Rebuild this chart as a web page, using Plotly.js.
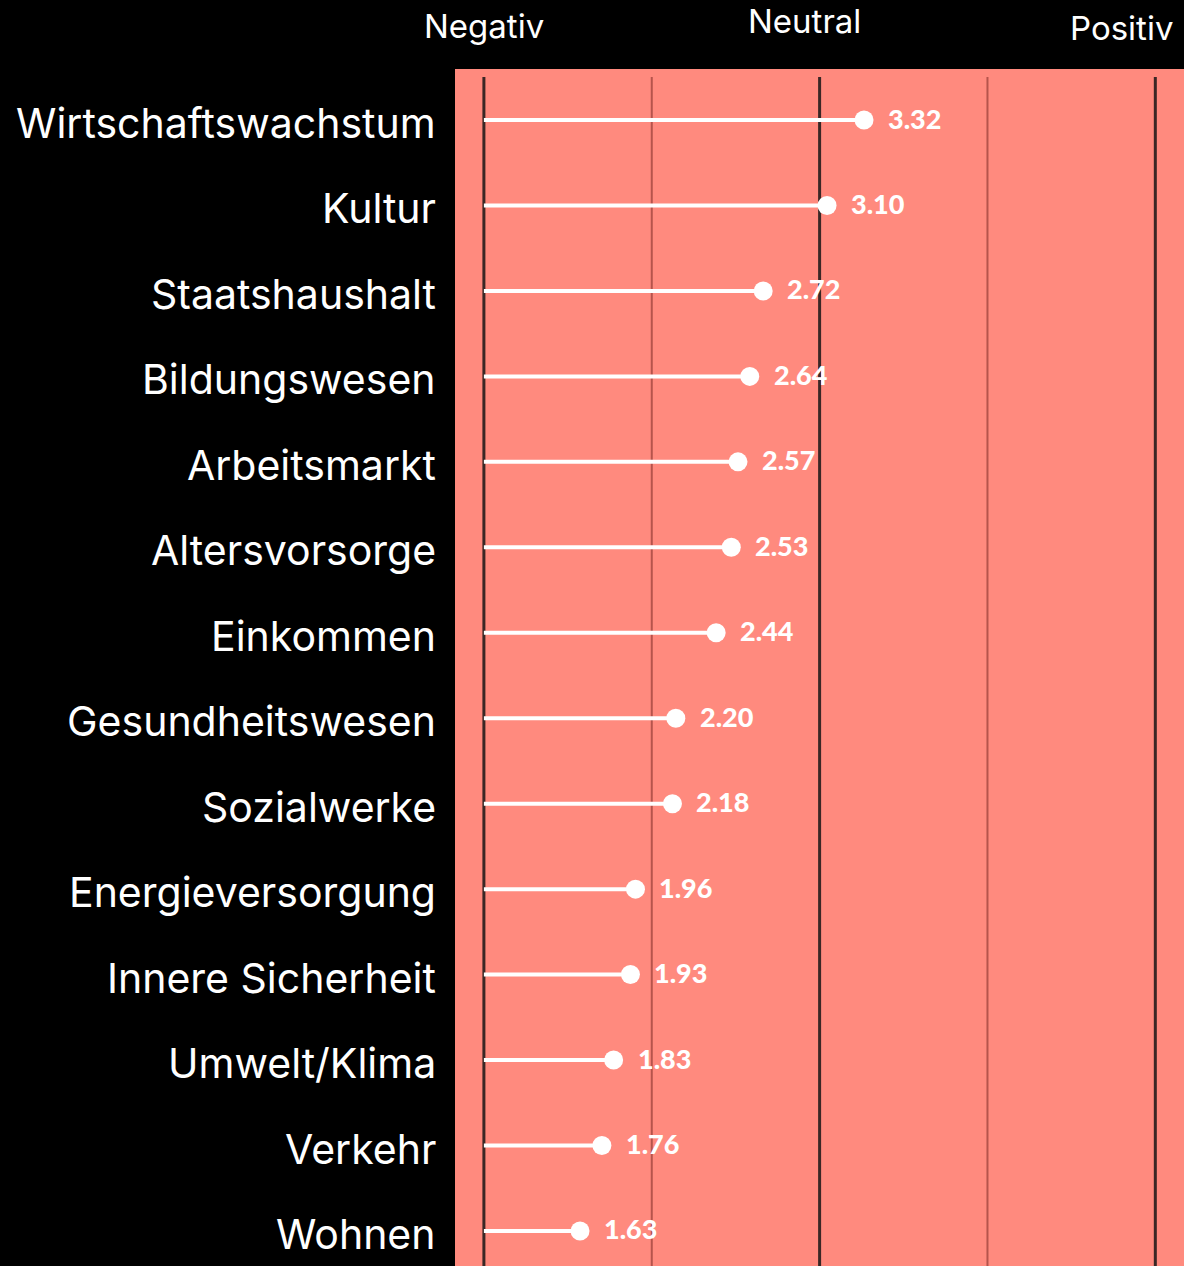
<!DOCTYPE html>
<html>
<head>
<meta charset="utf-8">
<script src="https://cdn.plot.ly/plotly-3.0.1.min.js"></script>
<style>
  html, body { margin: 0; padding: 0; background: #000; }
  #chart { width: 1184px; height: 1266px; }
</style>
</head>
<body>
<div id="chart"></div>
<script>
// ---- data ----
const categories = [
  "Wirtschaftswachstum", "Kultur", "Staatshaushalt", "Bildungswesen",
  "Arbeitsmarkt", "Altersvorsorge", "Einkommen", "Gesundheitswesen",
  "Sozialwerke", "Energieversorgung", "Innere Sicherheit", "Umwelt/Klima",
  "Verkehr", "Wohnen"
];
const values = [3.32, 3.10, 2.72, 2.64, 2.57, 2.53, 2.44, 2.20, 2.18, 1.96, 1.93, 1.83, 1.76, 1.63];
const scaleTicks = [1, 2, 3, 4, 5];
const scaleLabels = ["Negativ", "Neutral", "Positiv"];

// ---- style constants ----
const SALMON = "#FF8A7E";
const gridOffset = 0.058;      // visual offset of the scale lines in the original
const lineStart = scaleTicks[0] + gridOffset;
const rowIdx = categories.map((c, i) => i);

// stems: one trace with null breaks
const stemX = [], stemY = [];
values.forEach((v, i) => { stemX.push(lineStart, v, null); stemY.push(i, i, null); });

const traces = [
  {
    type: "scatter", mode: "lines", x: stemX, y: stemY,
    line: { color: "#ffffff", width: 4 }, hoverinfo: "skip", showlegend: false
  },
  {
    type: "scatter", mode: "markers", x: values, y: rowIdx,
    marker: { color: "#ffffff", size: 19, line: { width: 0 } },
    hoverinfo: "skip", showlegend: false
  }
];

const shapes = scaleTicks.map((t, k) => ({
  type: "line", xref: "x", yref: "paper",
  x0: t + gridOffset * (1 - k * 0.02), x1: t + gridOffset * (1 - k * 0.02),
  y0: 0, y1: 0.9933,
  line: k % 2 === 0 ? { color: "#3a2725", width: 3 } : { color: "rgba(120,40,35,0.55)", width: 2 },
  layer: "below"
}));

const annotations = [];
// category labels
categories.forEach((c, i) => annotations.push({
  xref: "paper", yref: "y", x: -0.0233, y: i, xanchor: "right", yanchor: "middle",
  text: c, showarrow: false, yshift: -3,
  font: { family: "Inter, Roboto, sans-serif", size: 41, color: "#ffffff" }
}));
// value labels
values.forEach((v, i) => annotations.push({
  xref: "x", yref: "y", x: v, y: i, xanchor: "left", yanchor: "middle",
  xshift: 22, yshift: 2, text: v.toFixed(2), showarrow: false,
  font: { family: "Lato, sans-serif", size: 27, weight: 900, color: "#ffffff" }
}));
// scale header labels
const headerPos = [
  { x: 0.0398, y: 1.0359, anchor: "center" },
  { x: 0.4794, y: 1.0401, anchor: "center" },
  { x: 0.9877, y: 1.0343, anchor: "right" }
];
scaleLabels.forEach((s, k) => annotations.push({
  xref: "paper", yref: "paper", x: headerPos[k].x, y: headerPos[k].y,
  xanchor: headerPos[k].anchor, yanchor: "middle", text: s, showarrow: false,
  font: { family: "Inter, Roboto, sans-serif", size: 33, color: "#ffffff" }
}));

const layout = {
  width: 1184, height: 1266,
  margin: { l: 455, r: 0, t: 69, b: 0, pad: 0 },
  paper_bgcolor: "#000000", plot_bgcolor: SALMON,
  xaxis: { range: [0.886, 5.224], showgrid: false, zeroline: false, showticklabels: false, ticks: "", fixedrange: true },
  yaxis: { range: [13.41, -0.597], showgrid: false, zeroline: false, showticklabels: false, ticks: "", fixedrange: true },
  shapes: shapes,
  annotations: annotations,
  showlegend: false
};

Plotly.newPlot("chart", traces, layout, { staticPlot: true, displayModeBar: false });
</script>
</body>
</html>
